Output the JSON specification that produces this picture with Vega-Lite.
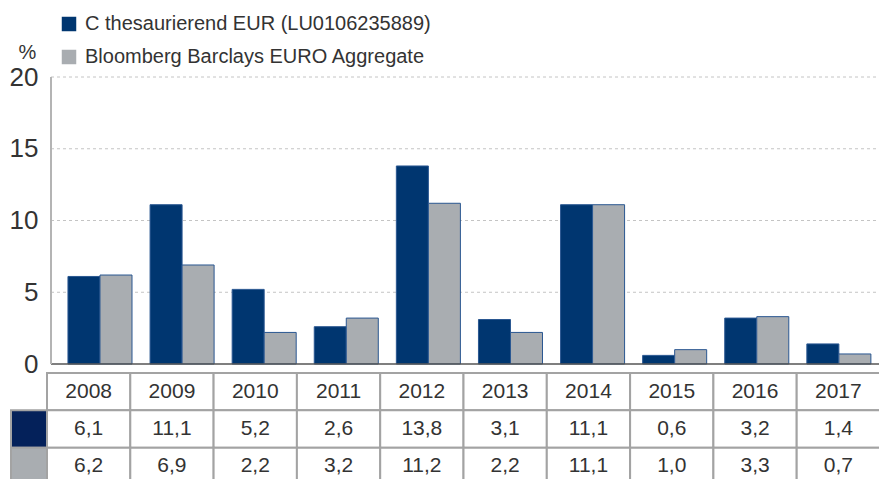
{
  "$schema": "https://vega.github.io/schema/vega-lite/v6.json",
  "padding": {"left": 9, "top": 14, "right": 0, "bottom": 0},
  "spacing": 9,
  "bounds": "flush",
  "config": {
    "view": {"stroke": null},
    "font": "Liberation Sans",
    "locale": {"number": {"decimal": ",", "thousands": ".", "grouping": [3], "currency": ["", " €"]}}
  },
  "datasets": {
    "perf": [
      {"year": "2008", "series": "C thesaurierend EUR (LU0106235889)", "value": 6.1},
      {"year": "2009", "series": "C thesaurierend EUR (LU0106235889)", "value": 11.1},
      {"year": "2010", "series": "C thesaurierend EUR (LU0106235889)", "value": 5.2},
      {"year": "2011", "series": "C thesaurierend EUR (LU0106235889)", "value": 2.6},
      {"year": "2012", "series": "C thesaurierend EUR (LU0106235889)", "value": 13.8},
      {"year": "2013", "series": "C thesaurierend EUR (LU0106235889)", "value": 3.1},
      {"year": "2014", "series": "C thesaurierend EUR (LU0106235889)", "value": 11.1},
      {"year": "2015", "series": "C thesaurierend EUR (LU0106235889)", "value": 0.6},
      {"year": "2016", "series": "C thesaurierend EUR (LU0106235889)", "value": 3.2},
      {"year": "2017", "series": "C thesaurierend EUR (LU0106235889)", "value": 1.4},
      {"year": "2008", "series": "Bloomberg Barclays EURO Aggregate", "value": 6.2},
      {"year": "2009", "series": "Bloomberg Barclays EURO Aggregate", "value": 6.9},
      {"year": "2010", "series": "Bloomberg Barclays EURO Aggregate", "value": 2.2},
      {"year": "2011", "series": "Bloomberg Barclays EURO Aggregate", "value": 3.2},
      {"year": "2012", "series": "Bloomberg Barclays EURO Aggregate", "value": 11.2},
      {"year": "2013", "series": "Bloomberg Barclays EURO Aggregate", "value": 2.2},
      {"year": "2014", "series": "Bloomberg Barclays EURO Aggregate", "value": 11.1},
      {"year": "2015", "series": "Bloomberg Barclays EURO Aggregate", "value": 1.0},
      {"year": "2016", "series": "Bloomberg Barclays EURO Aggregate", "value": 3.3},
      {"year": "2017", "series": "Bloomberg Barclays EURO Aggregate", "value": 0.7}
    ]
  },
  "data": {"name": "perf"},
  "resolve": {"scale": {"fill": "independent"}, "legend": {"fill": "independent"}},
  "vconcat": [
    {
      "width": 869,
      "height": 287,
      "resolve": {"scale": {"x": "independent"}},
      "layer": [
        {
          "data": {"values": [{}]},
          "encoding": {
            "x": {"datum": "start", "type": "nominal", "scale": {"type": "point", "domain": ["start", "end"], "padding": 0.02413, "align": 1}, "axis": null},
            "x2": {"datum": "end"}
          },
          "layer": [
            {"mark": {"type": "rule", "color": "#c4c4c4", "strokeDash": [3, 3], "strokeWidth": 1},
             "encoding": {"y": {"datum": 5, "type": "quantitative", "scale": {"domain": [0, 20], "nice": false}}}},
            {"mark": {"type": "rule", "color": "#c4c4c4", "strokeDash": [3, 3], "strokeWidth": 1},
             "encoding": {"y": {"datum": 10, "type": "quantitative", "scale": {"domain": [0, 20], "nice": false}}}},
            {"mark": {"type": "rule", "color": "#c4c4c4", "strokeDash": [3, 3], "strokeWidth": 1},
             "encoding": {"y": {"datum": 15, "type": "quantitative", "scale": {"domain": [0, 20], "nice": false}}}},
            {"mark": {"type": "rule", "color": "#c4c4c4", "strokeDash": [3, 3], "strokeWidth": 1},
             "encoding": {"y": {"datum": 20, "type": "quantitative", "scale": {"domain": [0, 20], "nice": false}}}}
          ]
        },
        {
          "mark": {"type": "bar", "stroke": "#2a5791", "strokeWidth": 1},
          "encoding": {
            "x": {"field": "year", "type": "nominal", "scale": {"type": "band", "paddingInner": 0.22, "paddingOuter": 0.4025, "align": 0.862}, "axis": null},
            "xOffset": {"field": "series", "type": "nominal", "scale": {"domain": ["C thesaurierend EUR (LU0106235889)", "Bloomberg Barclays EURO Aggregate"], "paddingInner": 0, "paddingOuter": 0}},
            "y": {
              "field": "value", "type": "quantitative",
              "scale": {"domain": [0, 20], "nice": false},
              "axis": {
                "orient": "left", "offset": -40, "values": [0, 5, 10, 15, 20],
                "domain": false, "ticks": false, "tickSize": 0, "grid": false,
                "labelFontSize": 26, "labelColor": "#333333", "labelPadding": 13, "labelFont": "Liberation Sans",
                "title": "%", "titleAngle": 0, "titleX": -24, "titleY": -25, "titleAlign": "center", "titleBaseline": "middle",
                "titleFontSize": 20, "titleFontWeight": "normal", "titleColor": "#333333", "titleFont": "Liberation Sans"
              }
            },
            "y2": {"datum": 0},
            "fill": {
              "field": "series", "type": "nominal",
              "scale": {"domain": ["C thesaurierend EUR (LU0106235889)", "Bloomberg Barclays EURO Aggregate"], "range": ["#003670", "#a9adb1"]},
              "legend": {
                "orient": "none", "legendX": 48, "legendY": -63, "title": null,
                "symbolType": "square", "symbolSize": 210, "symbolStrokeWidth": 0,
                "labelFontSize": 20, "labelColor": "#333333", "labelFont": "Liberation Sans",
                "labelOffset": 6, "rowPadding": 13, "padding": 0, "labelLimit": 600
              }
            }
          }
        },
        {
          "data": {"values": [{}]},
          "layer": [
            {"mark": {"type": "rule", "color": "#555555", "strokeWidth": 1.5},
             "encoding": {
               "x": {"datum": "start", "type": "nominal", "scale": {"type": "point", "domain": ["start", "end"], "padding": 0.02413, "align": 1}, "axis": null},
               "x2": {"datum": "end"},
               "y": {"datum": 0, "type": "quantitative", "scale": {"domain": [0, 20], "nice": false}}
             }},
            {"mark": {"type": "rule", "color": "#b4b4b4", "strokeWidth": 2},
             "encoding": {
               "x": {"datum": "start", "type": "nominal", "scale": {"type": "point", "domain": ["start", "end"], "padding": 0.02413, "align": 1}, "axis": null},
               "y": {"datum": 0, "type": "quantitative", "scale": {"domain": [0, 20], "nice": false}},
               "y2": {"datum": 20}
             }}
          ]
        }
      ]
    },
    {
      "spacing": 0,
      "bounds": "flush",
      "hconcat": [
        {
          "width": 36,
          "height": 112,
          "transform": [{"filter": "datum.year == '2008'"}],
          "mark": {"type": "rect", "stroke": "#a3a3a3", "strokeWidth": 2},
          "encoding": {
            "y": {"field": "series", "type": "nominal", "scale": {"type": "band", "domain": ["header", "C thesaurierend EUR (LU0106235889)", "Bloomberg Barclays EURO Aggregate"], "paddingInner": 0, "paddingOuter": 0}, "axis": null},
            "fill": {"field": "series", "type": "nominal", "scale": {"domain": ["C thesaurierend EUR (LU0106235889)", "Bloomberg Barclays EURO Aggregate"], "range": ["#04215a", "#a9adb1"]}, "legend": null}
          }
        },
        {
          "width": 833,
          "height": 112,
          "layer": [
            {
              "transform": [{"aggregate": [{"op": "count", "as": "n"}], "groupby": ["year"]}],
              "encoding": {
                "x": {"field": "year", "type": "nominal", "scale": {"type": "band", "paddingInner": 0, "paddingOuter": 0}, "axis": null},
                "y": {"datum": "header", "type": "nominal", "scale": {"type": "band", "domain": ["header", "C thesaurierend EUR (LU0106235889)", "Bloomberg Barclays EURO Aggregate"], "paddingInner": 0, "paddingOuter": 0}, "axis": null}
              },
              "layer": [
                {"mark": {"type": "rect", "fill": "#ffffff", "stroke": "#a3a3a3", "strokeWidth": 2}},
                {"mark": {"type": "text", "fontSize": 21, "color": "#333333", "font": "Liberation Sans", "baseline": "middle"},
                 "encoding": {"text": {"field": "year", "type": "nominal"}}}
              ]
            },
            {
              "encoding": {
                "x": {"field": "year", "type": "nominal", "scale": {"type": "band", "paddingInner": 0, "paddingOuter": 0}, "axis": null},
                "y": {"field": "series", "type": "nominal", "scale": {"type": "band", "domain": ["header", "C thesaurierend EUR (LU0106235889)", "Bloomberg Barclays EURO Aggregate"], "paddingInner": 0, "paddingOuter": 0}, "axis": null}
              },
              "layer": [
                {"mark": {"type": "rect", "fill": "#ffffff", "stroke": "#a3a3a3", "strokeWidth": 2}},
                {"mark": {"type": "text", "fontSize": 21, "color": "#333333", "font": "Liberation Sans", "baseline": "middle"},
                 "encoding": {"text": {"field": "value", "type": "quantitative", "format": ".1f"}}}
              ]
            }
          ]
        }
      ]
    }
  ]
}
